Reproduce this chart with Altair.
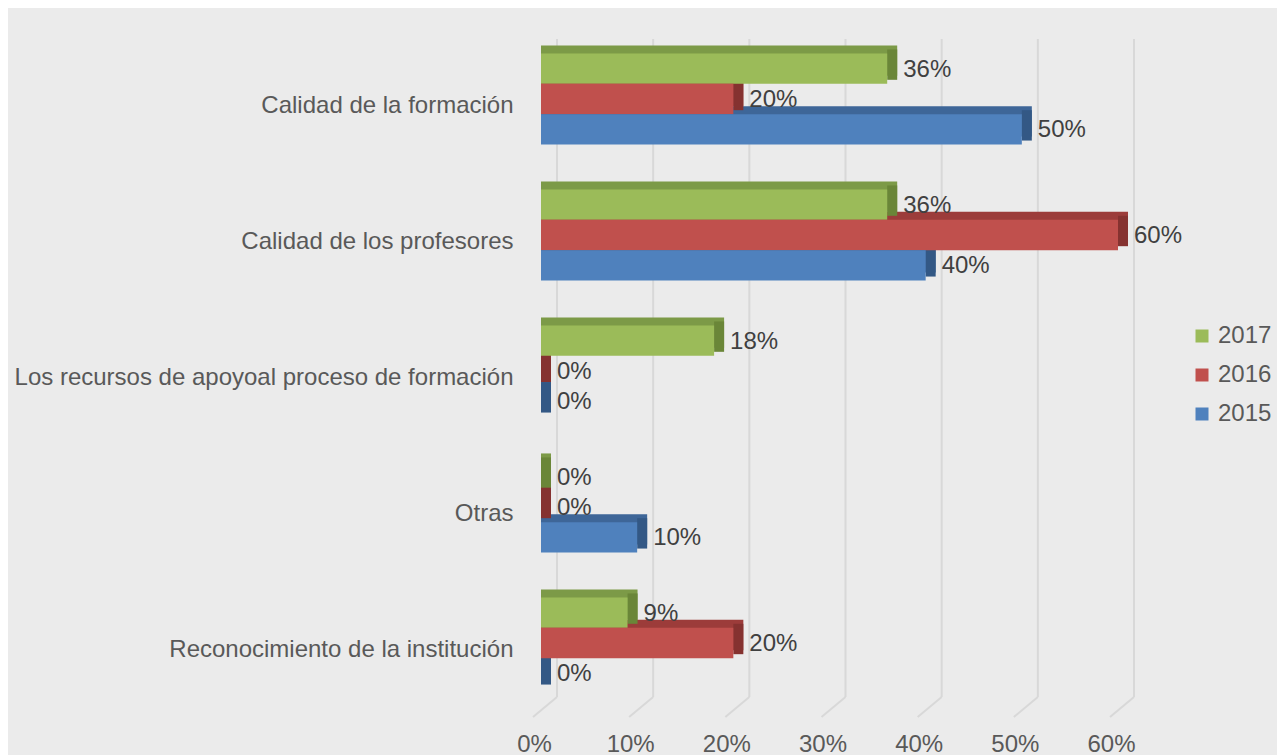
import altair as alt
import pandas as pd

categories = [
    "Calidad de la formación",
    "Calidad de los profesores",
    "Los recursos de apoyoal proceso de formación",
    "Otras",
    "Reconocimiento de la institución",
]
years = ["2017", "2016", "2015"]
v2017 = [36, 36, 18, 0, 9]
v2016 = [20, 60, 0, 0, 20]
v2015 = [50, 40, 0, 10, 0]
x_ticks = [0, 10, 20, 30, 40, 50, 60]

front_colors = ["#9BBB59", "#C0504D", "#4F81BD"]
top_colors = ["#7C9A47", "#9C3C3A", "#3E6698"]
side_colors = ["#6A8638", "#853230", "#335885"]

rows = []
for yr, vals in zip(years, [v2017, v2016, v2015]):
    for c, v in zip(categories, vals):
        rows.append({"cat": c, "year": yr, "v": v, "zero": 0, "label": f"{v}%"})
df = pd.DataFrame(rows)
grid_df = pd.DataFrame({"t": x_ticks})

W, H = 577, 680
PI, PO = 0.33, 0.165
STEP = H / (len(categories) - PI + 2 * PO)
BW = STEP * (1 - PI)
DX, DY = 10, 8
FONT = "Liberation Sans"

xscale = alt.Scale(domain=[0, 60], nice=False, zero=True)
yenc = alt.Y("cat:N", sort=categories,
             scale=alt.Scale(paddingInner=PI, paddingOuter=PO),
             axis=alt.Axis(title=None, ticks=False, domain=False, labelFontSize=24,
                           labelColor="#595959", labelPadding=28, labelOffset=7,
                           labelFont=FONT, labelLimit=800))


def yoff(shift=0):
    return alt.YOffset("year:N", sort=years,
                       scale=alt.Scale(range=[-shift, BW - shift], paddingInner=0, paddingOuter=0))


base = alt.Chart(df)

grid_v = alt.Chart(grid_df).mark_rule(color="#D8D8D8", strokeWidth=2, xOffset=16, x2Offset=16).encode(
    x=alt.X("t:Q", scale=xscale,
            axis=alt.Axis(title=None, values=x_ticks, format="d", labelExpr="datum.value + '%'",
                          grid=False, ticks=False, domain=False, labelFontSize=24,
                          labelColor="#595959", labelPadding=21, labelOffset=-7,
                          labelFlush=False, labelBound=False, labelOverlap=False,
                          labelFont=FONT)),
    y=alt.value(8), y2=alt.value(666),
)
grid_d = alt.Chart(grid_df).mark_rule(color="#D8D8D8", strokeWidth=2, xOffset=16, x2Offset=-8).encode(
    x=alt.X("t:Q", scale=xscale), x2="t:Q",
    y=alt.value(666), y2=alt.value(686),
)

top = base.mark_bar(x2Offset=DX).encode(
    x=alt.X("zero:Q", scale=xscale), x2="v:Q",
    y=yenc, yOffset=yoff(DY),
    color=alt.Color("year:N", scale=alt.Scale(domain=years, range=top_colors), legend=None),
)
side = base.mark_bar(x2Offset=DX).encode(
    x=alt.X("v:Q", scale=xscale), x2="v:Q",
    y=yenc, yOffset=yoff(DY / 2),
    color=alt.Color("year:N", scale=alt.Scale(domain=years, range=side_colors), legend=None),
)
front = base.mark_bar().encode(
    x=alt.X("zero:Q", scale=xscale), x2="v:Q",
    y=yenc, yOffset=yoff(0),
    color=alt.Color("year:N", scale=alt.Scale(domain=years, range=front_colors),
                    legend=alt.Legend(title=None, orient="none", legendX=649, legendY=293,
                                      padding=0, symbolType="square", symbolSize=169,
                                      symbolStrokeWidth=0, labelFontSize=24,
                                      labelColor="#595959", labelFont=FONT,
                                      rowPadding=15, labelOffset=4)),
)
labels = base.mark_text(align="left", baseline="middle", dx=16, dy=1, fontSize=24,
                        color="#404040", font=FONT).encode(
    x=alt.X("v:Q", scale=xscale),
    y=yenc,
    yOffset=alt.YOffset("year:N", sort=years, scale=alt.Scale(range=[0, BW], padding=0.5)),
    text="label:N",
)

chart = alt.layer(grid_v, grid_d, top, side, front, labels).resolve_scale(
    color="independent", yOffset="independent"
).properties(
    width=W, height=H,
    autosize=alt.AutoSizeParams(type="none"),
    padding={"left": 533, "top": 23, "right": 1269 - 533 - W, "bottom": 747 - 23 - H},
    background="#EBEBEB",
).configure_view(stroke=None)

chart.save("out.html", embed_options={"renderer": "svg", "actions": False})
